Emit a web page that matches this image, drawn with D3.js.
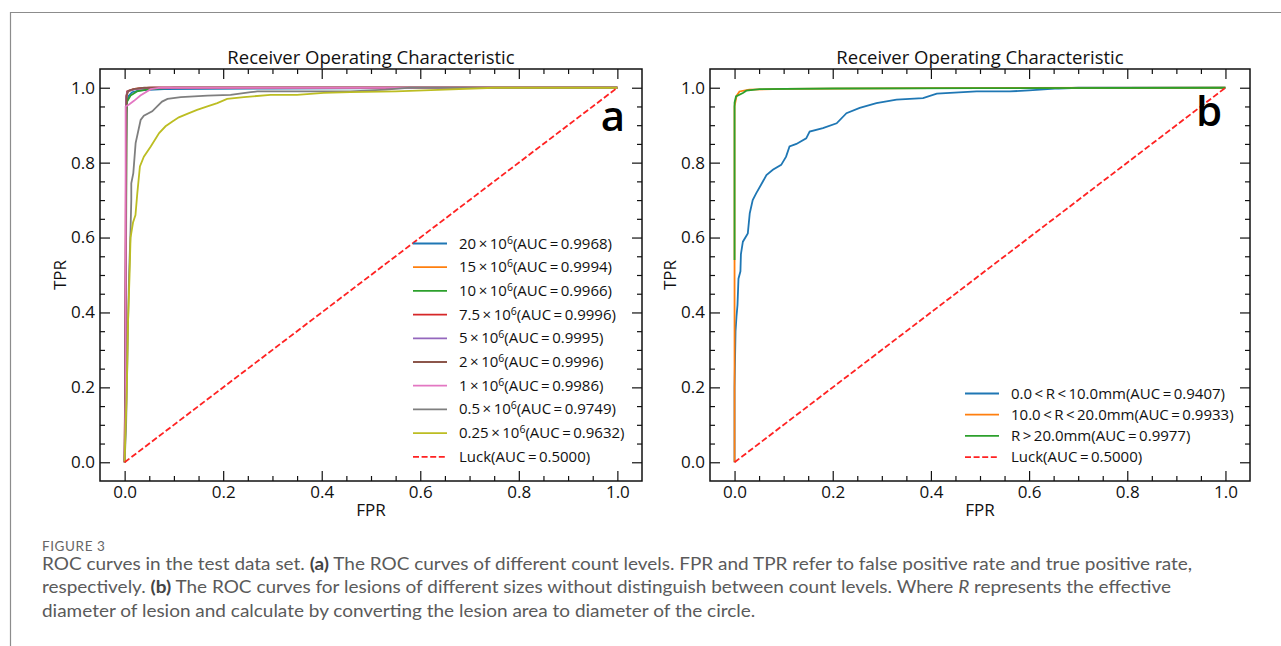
<!DOCTYPE html>
<html>
<head>
<meta charset="utf-8">
<script src="https://cdn.jsdelivr.net/npm/d3@7"></script>
<style>
    body { margin: 0; background: #fff; }
    svg { display: block; }
</style>
</head>
<body>
<svg id="fig" width="1281" height="646"></svg>
<script>
// ---- data ----
const majorTicks = [0, 0.2, 0.4, 0.6, 0.8, 1.0]
const minorTicks = [0.05, 0.1, 0.15, 0.25, 0.3, 0.35, 0.45, 0.5, 0.55, 0.65, 0.7, 0.75, 0.85, 0.9, 0.95]

// panel a: count levels (x10^6) and AUC
const countLevels = ['20', '15', '10', '7.5', '5', '2', '1', '0.5', '0.25']
const countAUC = ['0.9968', '0.9994', '0.9966', '0.9996', '0.9995', '0.9996', '0.9986', '0.9749', '0.9632']

const roc20 = [[0, 0], [0.002, 0.25], [0.003, 0.85], [0.004, 0.96], [0.008, 0.978], [0.015, 0.988], [0.03, 0.993], [0.08, 0.996], [0.3, 0.998], [0.6, 0.999], [1, 1]]
const roc15 = [[0, 0], [0.002, 0.5], [0.003, 0.97], [0.006, 0.99], [0.02, 0.997], [0.05, 1], [1, 1]]
const roc10 = [[0, 0], [0.002, 0.12], [0.003, 0.6], [0.004, 0.93], [0.005, 0.963], [0.012, 0.979], [0.025, 0.99], [0.053, 0.997], [0.1, 1], [1, 1]]
const roc7_5 = [[0, 0], [0.002, 0.4], [0.003, 0.97], [0.005, 0.99], [0.015, 0.995], [0.03, 0.998], [0.06, 1], [1, 1]]
const roc5 = [[0, 0], [0.002, 0.5], [0.003, 0.975], [0.006, 0.99], [0.02, 0.996], [0.05, 1], [1, 1]]
const roc2 = [[0, 0], [0.002, 0.45], [0.004, 0.98], [0.008, 0.992], [0.02, 0.997], [0.04, 1], [1, 1]]
const roc1 = [[0, 0], [0.002, 0.17], [0.002, 0.95], [0.009, 0.955], [0.019, 0.965], [0.032, 0.979], [0.053, 0.996], [0.073, 1], [1, 1]]
const roc0_5 = [[0, 0], [0.003, 0.1], [0.006, 0.3], [0.007, 0.38], [0.009, 0.5], [0.012, 0.62], [0.0135, 0.7], [0.0135, 0.745], [0.0176, 0.772],
    [0.0223, 0.852], [0.0325, 0.914], [0.039, 0.925], [0.056, 0.937], [0.066, 0.95], [0.076, 0.963], [0.087, 0.97], [0.114, 0.975],
    [0.168, 0.979], [0.215, 0.981], [0.256, 0.988], [0.269, 0.99], [0.458, 0.99], [0.53, 0.995], [0.58, 1], [1, 1]]
const roc0_25 = [[0, 0], [0.002, 0.1], [0.004, 0.17], [0.007, 0.38], [0.01, 0.5], [0.012, 0.6], [0.017, 0.64], [0.022, 0.66], [0.0257, 0.718],
    [0.031, 0.79], [0.039, 0.816], [0.053, 0.843], [0.07, 0.879], [0.083, 0.897], [0.097, 0.91], [0.11, 0.921], [0.127, 0.93],
    [0.147, 0.941], [0.168, 0.95], [0.188, 0.959], [0.208, 0.97], [0.242, 0.975], [0.296, 0.981], [0.35, 0.981], [0.404, 0.986],
    [0.458, 0.988], [0.55, 0.99], [0.65, 0.995], [0.75, 1], [1, 1]]

// panel b: lesion sizes
const sizeLabels = ['0.0 < R < 10.0mm', '10.0 < R < 20.0mm', 'R > 20.0mm']
const sizeAUC = ['0.9407', '0.9933', '0.9977']

const rocSmall = [[0, 0], [0, 0.2], [0.002, 0.35], [0.004, 0.39], [0.006, 0.42], [0.008, 0.49], [0.012, 0.51], [0.013, 0.556], [0.017, 0.589],
    [0.027, 0.611], [0.031, 0.665], [0.037, 0.7], [0.044, 0.718], [0.054, 0.741], [0.065, 0.767], [0.078, 0.781], [0.095, 0.794],
    [0.105, 0.816], [0.112, 0.843], [0.126, 0.85], [0.146, 0.865], [0.153, 0.883], [0.18, 0.892], [0.208, 0.905], [0.228, 0.932],
    [0.255, 0.946], [0.289, 0.959], [0.33, 0.968], [0.384, 0.972], [0.412, 0.984], [0.493, 0.99], [0.561, 0.99], [0.6, 0.993],
    [0.66, 0.998], [0.7, 1], [1, 1]]
const rocMid = [[0, 0], [0, 0.95], [0.004, 0.978], [0.01, 0.99], [0.03, 0.995], [0.1, 0.997], [0.4, 0.999], [1, 1]]
const rocLarge = [[0, 0.54], [0, 0.96], [0.003, 0.977], [0.017, 0.986], [0.024, 0.992], [0.051, 0.996], [0.2, 0.998], [0.5, 0.999], [1, 1]]

const luck = [[0, 0], [1, 1]]
const luckAUC = '0.5000'

// ---- drawing ----
const svg = d3.select('#fig')
const colors = d3.schemeCategory10.slice(0, 7).concat(['#7f7f7f', '#bcbd22'])
const tickFont = "'Open Sans', 'Noto Sans', sans-serif"
const f1 = d3.format('.1f')

// figure frame (left and top rule)
svg.append('path')
    .attr('d', 'M10.5,646V12.5H1281')
    .attr('fill', 'none')
    .attr('stroke', '#8c8c8c')
    .attr('stroke-width', 1.2)

const panel = (box, series, legend, letter) => {
    const x = d3.scaleLinear().domain([-0.05, 1.05]).range([box.left, box.right])
    const y = d3.scaleLinear().domain([-0.05, 1.05]).range([box.bottom, box.top])
    const g = svg.append('g')

    const addAxis = (gen, tr, values, size, fmt) => g.append('g')
        .attr('transform', tr)
        .call(gen.tickValues(values).tickSize(size).tickPadding(5).tickFormat(fmt))
        .call(a => a.select('.domain').remove())
        .call(a => a.selectAll('line').attr('stroke', '#111').attr('stroke-width', 1.2))
        .call(a => a.selectAll('text').attr('font-family', tickFont).attr('font-size', 17).attr('fill', '#111'))

    const none = () => ''
    addAxis(d3.axisBottom(x), `translate(0,${box.bottom})`, majorTicks, -10, f1)
    addAxis(d3.axisBottom(x), `translate(0,${box.bottom})`, minorTicks, -5, none)
    addAxis(d3.axisTop(x), `translate(0,${box.top})`, majorTicks, -10, none)
    addAxis(d3.axisTop(x), `translate(0,${box.top})`, minorTicks, -5, none)
    addAxis(d3.axisLeft(y), `translate(${box.left},0)`, majorTicks, -10, f1)
    addAxis(d3.axisLeft(y), `translate(${box.left},0)`, minorTicks, -5, none)
    addAxis(d3.axisRight(y), `translate(${box.right},0)`, majorTicks, -10, none)
    addAxis(d3.axisRight(y), `translate(${box.right},0)`, minorTicks, -5, none)

    const line = d3.line()
        .x(d => x(d[0]))
        .y(d => y(d[1]))

    series.forEach((s, i) => {
        g.append('path')
            .datum(s.data)
            .attr('fill', 'none')
            .attr('stroke', s.color)
            .attr('stroke-width', s.dash ? 1.8 : 1.8)
            .attr('stroke-dasharray', s.dash || null)
            .attr('d', line)
    })

    // spines
    g.append('rect')
        .attr('x', box.left)
        .attr('y', box.top)
        .attr('width', box.right - box.left)
        .attr('height', box.bottom - box.top)
        .attr('fill', 'none')
        .attr('stroke', '#111')
        .attr('stroke-width', 1.5)

    const cx = (box.left + box.right) / 2
    g.append('text')
        .attr('x', cx).attr('y', box.top - 5)
        .attr('text-anchor', 'middle')
        .attr('font-family', tickFont).attr('font-size', 18.5).attr('fill', '#111')
        .text('Receiver Operating Characteristic')
    g.append('text')
        .attr('x', cx).attr('y', box.bottom + 35)
        .attr('text-anchor', 'middle')
        .attr('font-family', tickFont).attr('font-size', 17).attr('fill', '#111')
        .text('FPR')
    g.append('text')
        .attr('transform', `translate(${box.left - 34},${(box.top + box.bottom) / 2}) rotate(-90)`)
        .attr('text-anchor', 'middle')
        .attr('font-family', tickFont).attr('font-size', 17).attr('fill', '#111')
        .text('TPR')

    g.append('text')
        .attr('x', letter.x).attr('y', letter.y)
        .attr('text-anchor', 'middle')
        .attr('font-family', tickFont).attr('font-size', 42).attr('font-weight', 600).attr('fill', '#000')
        .text(letter.text)

    // legend, no frame
    const lg = g.append('g')
    series.forEach((s, i) => {
        const ly = legend.top + i * legend.step
        lg.append('line')
            .attr('x1', legend.x).attr('x2', legend.x + 34)
            .attr('y1', ly).attr('y2', ly)
            .attr('stroke', s.color)
            .attr('stroke-width', 1.8)
            .attr('stroke-dasharray', s.dash || null)
        const t = lg.append('text')
            .attr('x', legend.x + 46).attr('y', ly + 5)
            .attr('font-family', tickFont).attr('font-size', 15).attr('fill', '#111')
        s.label.forEach(part => {
            const sp = t.append('tspan').text(part.t)
            if (part.sup) sp.attr('font-size', 10.5).attr('baseline-shift', '45%')
        })
    })
}

const thin = '\u2009'
const seriesA = [roc20, roc15, roc10, roc7_5, roc5, roc2, roc1, roc0_5, roc0_25].map((d, i) => ({
    data: d,
    color: colors[i],
    label: [{ t: `${countLevels[i]}${thin}×${thin}10` }, { t: '6', sup: true }, { t: `(AUC${thin}=${thin}${countAUC[i]})` }]
}))
seriesA.push({ data: luck, color: '#f22', dash: '6,2.6', label: [{ t: `Luck(AUC${thin}=${thin}${luckAUC})` }] })

const seriesB = [rocSmall, rocMid, rocLarge].map((d, i) => ({
    data: d,
    color: colors[i],
    label: [{ t: `${sizeLabels[i].replace(/ /g, thin)}(AUC${thin}=${thin}${sizeAUC[i]})` }]
}))
seriesB.push({ data: luck, color: '#f22', dash: '6,2.6', label: [{ t: `Luck(AUC${thin}=${thin}${luckAUC})` }] })

panel({ left: 100, right: 642, top: 69, bottom: 481 }, seriesA,
    { x: 413, top: 243.5, step: 23.7 }, { x: 613, y: 131, text: 'a' })
panel({ left: 710, right: 1250, top: 69, bottom: 481 }, seriesB,
    { x: 965, top: 393.5, step: 21.2 }, { x: 1209, y: 126, text: 'b' })

// ---- caption ----
const capFont = "Lato, 'Open Sans', sans-serif"
svg.append('text')
    .attr('x', 42).attr('y', 551)
    .attr('font-family', capFont).attr('font-size', 13.5).attr('fill', '#666').attr('letter-spacing', 0.6)
    .text('FIGURE 3')

const captionLines = [
    [{ t: 'ROC curves in the test data set. ' }, { t: '(a)', b: true }, { t: ' The ROC curves of different count levels. FPR and TPR refer to false positive rate and true positive rate,' }],
    [{ t: 'respectively. ' }, { t: '(b)', b: true }, { t: ' The ROC curves for lesions of different sizes without distinguish between count levels. Where ' }, { t: 'R', i: true }, { t: ' represents the effective' }],
    [{ t: 'diameter of lesion and calculate by converting the lesion area to diameter of the circle.' }]
]
// caption face is wider than Lato, so stretch the block to the width of the first line
const cap = svg.append('g')
captionLines.forEach((parts, k) => {
    const t = cap.append('text')
        .attr('x', 0).attr('y', 570 + k * 23.5)
        .attr('font-family', capFont).attr('font-size', 16.5).attr('fill', '#5a5a5a')
        .attr('xml:space', 'preserve')
    parts.forEach(p => {
        const sp = t.append('tspan').text(p.t)
        if (p.b) sp.attr('font-weight', 700).attr('fill', '#444')
        if (p.i) sp.attr('font-style', 'italic')
    })
})
const firstLen = cap.select('text').node().getComputedTextLength()
const sx = firstLen > 0 ? 1151 / firstLen : 1
cap.attr('transform', `translate(42,0) scale(${sx},1)`)
</script>
</body>
</html>
